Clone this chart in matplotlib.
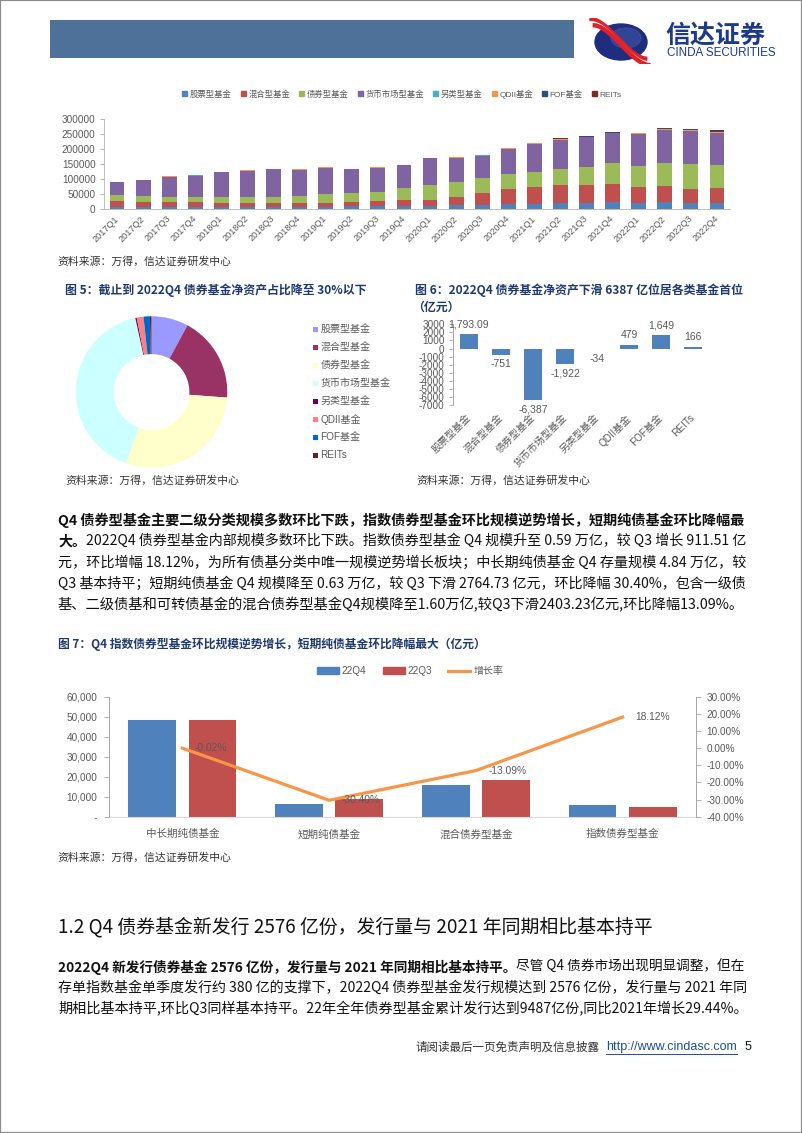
import numpy as np
import matplotlib
matplotlib.use("Agg")
import matplotlib.pyplot as plt
from matplotlib.patches import Rectangle, Ellipse, Patch
from matplotlib.lines import Line2D
from matplotlib.ticker import FuncFormatter

# ---------------- data ----------------
quarters = ['2017Q1', '2017Q2', '2017Q3', '2017Q4', '2018Q1', '2018Q2', '2018Q3', '2018Q4',
            '2019Q1', '2019Q2', '2019Q3', '2019Q4', '2020Q1', '2020Q2', '2020Q3', '2020Q4',
            '2021Q1', '2021Q2', '2021Q3', '2021Q4', '2022Q1', '2022Q2', '2022Q3', '2022Q4']
fund_types = ['股票型基金', '混合型基金', '债券型基金', '货币市场型基金', '另类型基金', 'QDII基金', 'FOF基金', 'REITs']
stock = [6000, 6000, 6200, 6500, 6500, 6200, 6000, 6500, 8000, 8500, 9000, 11000,
         11000, 14400, 15000, 17700, 17700, 18800, 19000, 22100, 18800, 22100, 18800, 20593]
mixed = [19500, 17200, 17000, 16700, 14500, 14800, 12800, 12300, 13000, 14700, 17500, 17800,
         20000, 25400, 40000, 48700, 54300, 59800, 59600, 62000, 53200, 53200, 48700, 47949]
bond = [19900, 21100, 17800, 16700, 18900, 17700, 19900, 24300, 28800, 28800, 31000, 40900,
        47600, 48700, 48000, 51000, 49700, 54000, 60800, 68800, 71900, 79700, 83100, 76713]
money = [43500, 52000, 66000, 71000, 83000, 88600, 94000, 87500, 87400, 80800, 79700, 76000,
         90000, 81000, 75000, 83000, 95000, 98000, 99000, 99000, 105000, 108500, 109500, 107578]
alt = [500, 500, 500, 1800, 800, 300, 300, 300, 300, 300, 300, 400,
       400, 1200, 700, 600, 600, 600, 600, 700, 700, 700, 800, 766]
qdii = [1000, 900, 900, 800, 900, 800, 900, 900, 900, 900, 1000, 1100,
        1100, 1200, 1300, 1400, 1500, 1600, 1800, 2100, 2300, 2900, 3300, 3779]
fof = [0, 0, 0, 100, 100, 200, 300, 400, 500, 600, 700, 800,
       1000, 1200, 1400, 1600, 1800, 2000, 2200, 2300, 2000, 2200, 1900, 3549]
reits = [0, 0, 0, 0, 0, 0, 0, 0, 0, 0, 0, 0,
         0, 0, 0, 0, 0, 300, 400, 550, 600, 650, 700, 866]

change_q4 = [1793.09, -751, -6387, -1922, -34, 479, 1649, 166]

bond_cats = ['中长期纯债基金', '短期纯债基金', '混合债券型基金', '指数债券型基金']
size_22q4 = [48400, 6300, 16000, 5900]
size_22q3 = [48410, 9065, 18403, 4988]
growth = [-0.02, -30.40, -13.09, 18.12]

# ---------------- setup ----------------
W, H = 802, 1133
SANS = ['Liberation Sans', 'Noto Sans CJK SC']
BODY = ['Noto Sans CJK SC']
plt.rcParams['font.family'] = SANS
plt.rcParams['axes.unicode_minus'] = False

fig = plt.figure(figsize=(W / 100, H / 100), dpi=100)
fig.patch.set_facecolor('white')

GRAY = '#595959'
AXC = '#A6A6A6'
TITLE_C = '#1F3A70'


def ftext(x, y, s, **kw):
    return fig.text(x / W, 1 - y / H, s, **kw)


def axes_px(x0, y0, x1, y1):
    return fig.add_axes([x0 / W, 1 - y1 / H, (x1 - x0) / W, (y1 - y0) / H])


# page border and header
fig.add_artist(Rectangle((0, 0), 1, 1, transform=fig.transFigure, fill=False,
                         edgecolor='#8C8C8C', lw=1.6))
fig.add_artist(Rectangle((50 / W, 1 - 57.5 / H), (574 - 50) / W, 37.5 / H,
                         transform=fig.transFigure, color='#4E7199', lw=0))

# logo
axl = axes_px(588, 18, 656, 64)
axl.set_xlim(0, 68)
axl.set_ylim(46, 0)
axl.axis('off')
axl.add_patch(Ellipse((33, 24), 52, 36, color='#1E2D7D'))
axl.add_patch(Ellipse((38, 20), 30, 20, color='#3E54A8', alpha=0.6))
tt = np.linspace(0, 1, 60)
for off, col, lw in [(-3.2, '#E0202A', 3.2), (0, 'white', 1.2), (3.2, '#E0202A', 3.2)]:
    xs = 3 + 58 * tt + off * 0.5
    ys = 4 + 40 * (3 * tt ** 2 - 2 * tt ** 3) + off
    axl.plot(xs, ys, color=col, lw=lw, solid_capstyle='butt')
ftext(665, 36, '信达证券', fontsize=18, fontweight='bold', color='#1B3A8C', va='center',
      family=BODY)
ftext(667, 53, 'CINDA SECURITIES', fontsize=8.4, color='#1B3A8C', va='center',
      family=['Liberation Sans'])

# ---------------- chart 1: stacked bars ----------------
series = [stock, mixed, bond, money, alt, qdii, fof, reits]
colors1 = ['#4F81BD', '#C0504D', '#9BBB59', '#8064A2', '#4BACC6', '#F79646', '#2C4D75', '#772C2A']
ax1 = axes_px(104, 119, 730, 209)
xq = np.arange(len(quarters))
bottom = np.zeros(len(quarters))
for name, vals, c in zip(fund_types, series, colors1):
    ax1.bar(xq, vals, 0.57, bottom=bottom, color=c, lw=0, label=name)
    bottom += np.array(vals, dtype=float)
ax1.set_xlim(-0.5, len(quarters) - 0.5)
ax1.set_ylim(0, 300000)
ax1.set_yticks(np.arange(0, 300001, 50000))
ax1.yaxis.set_major_formatter(FuncFormatter(lambda v, p: f"{v:.0f}"))
ax1.set_xticks(xq)
ax1.set_xticklabels(quarters, rotation=45, ha='right', va='center', rotation_mode='anchor')
ax1.tick_params(axis='x', length=0, pad=6, labelsize=6.6, labelcolor=GRAY)
ax1.tick_params(axis='y', length=3, width=0.6, color=AXC, pad=3, labelsize=7.2, labelcolor=GRAY)
for s in ['top', 'right']:
    ax1.spines[s].set_visible(False)
for s in ['left', 'bottom']:
    ax1.spines[s].set_color('#BFBFBF')
    ax1.spines[s].set_linewidth(0.7)
leg_handles = [Patch(color=c, label=n) for n, c in zip(fund_types, colors1)]
fig.legend(handles=leg_handles, loc='center', bbox_to_anchor=(402 / W, 1 - 94 / H), ncol=8,
           frameon=False, fontsize=6, handlelength=0.6, handleheight=0.6, handletextpad=0.3,
           columnspacing=1.1, labelcolor=GRAY)

SRC = '资料来源：万得，信达证券研发中心'
ftext(57, 262, SRC, fontsize=7.8, color='#333333', va='center', family=BODY)

# ---------------- figure 5: donut ----------------
ftext(65, 290, '图 5：截止到 2022Q4 债券基金净资产占比降至 30%以下', fontsize=8.6,
      fontweight='bold', color=TITLE_C, va='center', family=BODY)
colors5 = ['#9999FF', '#993366', '#FFFFCC', '#CCFFFF', '#660066', '#FF8080', '#0066CC', '#6B2020']
q4_vals = [s[-1] for s in series]
ax5 = axes_px(75, 315.5, 228, 468.5)
ax5.pie(q4_vals, colors=colors5, startangle=90, counterclock=False,
        wedgeprops=dict(width=0.5, edgecolor='none'))
ax5.set_xlim(-1.01, 1.01)
ax5.set_ylim(-1.01, 1.01)
ax5.set_aspect('equal')
for i, (name, c) in enumerate(zip(fund_types, colors5)):
    yy = 329.3 + 18 * i
    fig.add_artist(Rectangle((312.5 / W, 1 - (yy + 2.6) / H), 5.2 / W, 5.2 / H,
                             transform=fig.transFigure, color=c, lw=0))
    ftext(320.5, yy, name, fontsize=7.2, color=GRAY, va='center')
ftext(65, 481, SRC, fontsize=7.8, color='#333333', va='center', family=BODY)

# ---------------- figure 6: change bars ----------------
ftext(415, 290, '图 6：2022Q4 债券基金净资产下滑 6387 亿位居各类基金首位', fontsize=8.6,
      fontweight='bold', color=TITLE_C, va='center', family=BODY)
ftext(412, 307, '（亿元）', fontsize=8.6, fontweight='bold', color=TITLE_C, va='center', family=BODY)
ax6 = axes_px(453, 324.3, 709, 405)
x6 = np.arange(len(fund_types))
ax6.bar(x6, change_q4, 0.57, color='#4F81BD', lw=0)
ax6.set_xlim(-0.5, len(fund_types) - 0.5)
ax6.set_ylim(-7000, 3000)
ax6.set_yticks(np.arange(-7000, 3001, 1000))
ax6.yaxis.set_major_formatter(FuncFormatter(lambda v, p: f"{v:.0f}"))
ax6.tick_params(axis='y', length=3, width=0.6, color=AXC, pad=3, labelsize=7.2, labelcolor=GRAY)
ax6.set_xticks(x6)
ax6.set_xticklabels(fund_types, rotation=45, ha='right', va='center', rotation_mode='anchor')
ax6.tick_params(axis='x', length=0, pad=8, labelsize=7.2, labelcolor=GRAY)
for s in ['top', 'right', 'bottom']:
    ax6.spines[s].set_visible(False)
ax6.spines['left'].set_color(AXC)
ax6.spines['left'].set_linewidth(0.7)
for i, v in enumerate(change_q4):
    lab = f"{v:,.2f}" if v != round(v) else f"{v:,.0f}"
    ax6.annotate(lab, (i, v), xytext=(0, 3.5 if v >= 0 else -3.5), textcoords='offset points',
                 ha='center', va='bottom' if v >= 0 else 'top', fontsize=7.5, color=GRAY)
ftext(416, 481, SRC, fontsize=7.8, color='#333333', va='center', family=BODY)

# ---------------- paragraph 1 ----------------
fig.canvas.draw()
renderer = fig.canvas.get_renderer()


def measure(s, size, weight):
    t = fig.text(0, 0, s, fontsize=size, fontweight=weight, family=BODY)
    w = t.get_window_extent(renderer=renderer).width
    t.remove()
    return w


def para_line(y, segments, x0=58, x1=747, base=9.7):
    total = sum(measure(s, base, wt) for s, wt in segments)
    size = base * (x1 - x0) / total
    size = min(max(size, base * 0.88), base * 1.1)
    x = x0
    for s, wt in segments:
        ftext(x, y, s, fontsize=size, fontweight=wt, family=BODY, va='center', ha='left',
              color='#111111')
        x += measure(s, size, wt)


para1 = [
    [('Q4 债券型基金主要二级分类规模多数环比下跌，指数债券型基金环比规模逆势增长，短期纯债基金环比降幅最', 'bold')],
    [('大。', 'bold'), ('2022Q4 债券型基金内部规模多数环比下跌。指数债券型基金 Q4 规模升至 0.59 万亿，较 Q3 增长 911.51 亿', 'normal')],
    [('元，环比增幅 18.12%，为所有债基分类中唯一规模逆势增长板块；中长期纯债基金 Q4 存量规模 4.84 万亿，较', 'normal')],
    [('Q3 基本持平；短期纯债基金 Q4 规模降至 0.63 万亿，较 Q3 下滑 2764.73 亿元，环比降幅 30.40%，包含一级债', 'normal')],
    [('基、二级债基和可转债基金的混合债券型基金Q4规模降至1.60万亿,较Q3下滑2403.23亿元,环比降幅13.09%。', 'normal')],
]
for i, segs in enumerate(para1):
    para_line(520 + 21.1 * i, segs)

# ---------------- figure 7 ----------------
ftext(58, 644, '图 7：Q4 指数债券型基金环比规模逆势增长，短期纯债基金环比降幅最大（亿元）', fontsize=8.5,
      fontweight='bold', color=TITLE_C, va='center', family=BODY)
ax7 = axes_px(109, 696.7, 696, 816.7)
x7 = np.arange(len(bond_cats))
ax7.bar(x7 - 0.205, size_22q4, 0.325, color='#4F81BD', lw=0, label='22Q4')
ax7.bar(x7 + 0.205, size_22q3, 0.325, color='#C0504D', lw=0, label='22Q3')
ax7.set_xlim(-0.5, len(bond_cats) - 0.5)
ax7.set_ylim(0, 60000)
ax7.set_yticks(np.arange(0, 60001, 10000))
ax7.yaxis.set_major_formatter(FuncFormatter(lambda v, p: '-' if v == 0 else f"{v:,.0f}"))
ax7.set_xticks(x7)
ax7.set_xticklabels(bond_cats)
ax7.tick_params(axis='x', length=0, pad=9, labelsize=7.6, labelcolor=GRAY)
ax7.tick_params(axis='y', length=3.5, width=0.6, color=AXC, pad=5, labelsize=7.2, labelcolor=GRAY)
ax7.spines['top'].set_visible(False)
ax7.spines['right'].set_visible(False)
ax7.spines['left'].set_color(AXC)
ax7.spines['left'].set_linewidth(0.7)
ax7.spines['bottom'].set_color('#D9D9D9')
ax7.spines['bottom'].set_linewidth(0.8)
ax7r = ax7.twinx()
ax7r.plot(x7, growth, color='#F79646', lw=2.3, solid_joinstyle='round', label='增长率')
ax7r.set_ylim(-40, 30)
ax7r.set_yticks(np.arange(-40, 31, 10))
ax7r.yaxis.set_major_formatter(FuncFormatter(lambda v, p: f"{v:.2f}%"))
ax7r.tick_params(axis='y', length=3.5, width=0.6, color=AXC, pad=4, labelsize=7.2, labelcolor=GRAY)
for s in ['top', 'left', 'bottom']:
    ax7r.spines[s].set_visible(False)
ax7r.spines['right'].set_color(AXC)
ax7r.spines['right'].set_linewidth(0.7)
for i, g in enumerate(growth):
    ax7r.annotate(f"{g:.2f}%", (i, g), xytext=(9, 0), textcoords='offset points',
                  ha='left', va='center', fontsize=7.4, color=GRAY)
leg7 = [Patch(color='#4F81BD', label='22Q4'), Patch(color='#C0504D', label='22Q3'),
        Line2D([0], [0], color='#F79646', lw=2.3, label='增长率')]
fig.legend(handles=leg7, loc='center', bbox_to_anchor=(410 / W, 1 - 671 / H), ncol=3,
           frameon=False, fontsize=7.2, handlelength=2.2, handleheight=0.6, handletextpad=0.3,
           columnspacing=1.6, labelcolor=GRAY)
ftext(57, 858, SRC, fontsize=7.8, color='#333333', va='center', family=BODY)

# ---------------- section 1.2 ----------------
ftext(58, 927, '1.2 Q4 债券基金新发行 2576 亿份，发行量与 2021 年同期相比基本持平', fontsize=13.6,
      color='#111111', va='center', family=BODY)
para2 = [
    [('2022Q4 新发行债券基金 2576 亿份，发行量与 2021 年同期相比基本持平。', 'bold'),
     ('尽管 Q4 债券市场出现明显调整，但在', 'normal')],
    [('存单指数基金单季度发行约 380 亿的支撑下，2022Q4 债券型基金发行规模达到 2576 亿份，发行量与 2021 年同', 'normal')],
    [('期相比基本持平,环比Q3同样基本持平。22年全年债券型基金累计发行达到9487亿份,同比2021年增长29.44%。', 'normal')],
]
for i, segs in enumerate(para2):
    para_line(967 + 20.8 * i, segs)

# ---------------- footer ----------------
ftext(599, 1047, '请阅读最后一页免责声明及信息披露', fontsize=8.3, color='#333333', va='center',
      ha='right', family=BODY)
link = ftext(606, 1047, 'http://www.cindasc.com', fontsize=9, color='#1F4E9C', va='center',
             ha='left', family=['Liberation Sans'])
lw_link = link.get_window_extent(renderer=renderer).width
fig.add_artist(Line2D([606 / W, (606 + lw_link) / W], [1 - 1054 / H, 1 - 1054 / H],
                      transform=fig.transFigure, color='#1F4E9C', lw=0.7))
ftext(745, 1047, '5', fontsize=9, color='#111111', va='center', ha='left',
      family=['Liberation Sans'])

fig.savefig('out.png', dpi=100, facecolor='white')
